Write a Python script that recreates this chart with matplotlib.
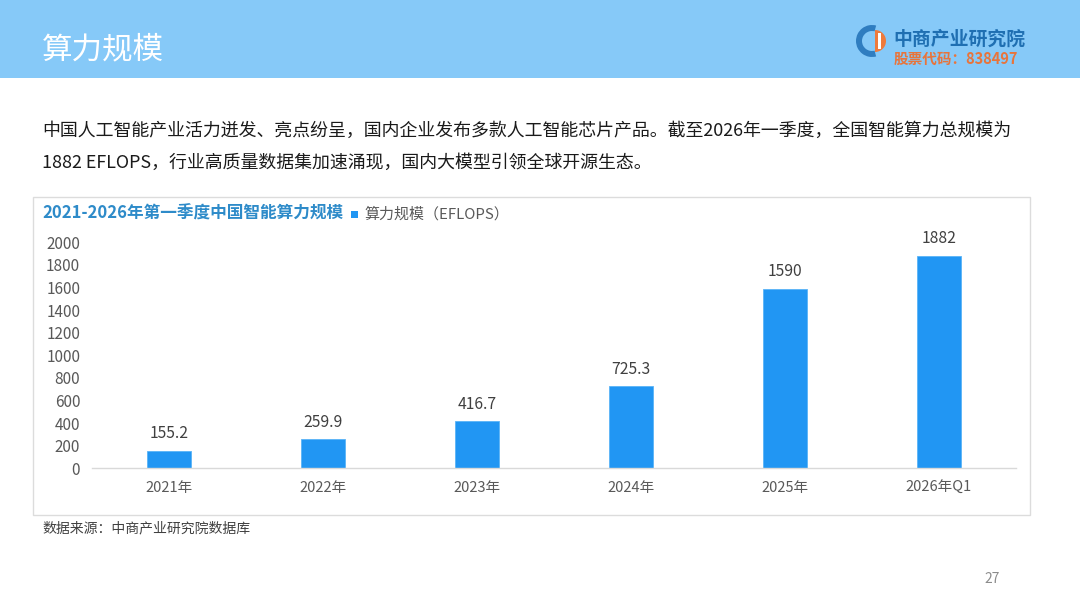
import matplotlib
matplotlib.use("Agg")
import matplotlib.pyplot as plt
from matplotlib.patches import Rectangle, Wedge

plt.rcParams['font.family'] = ['Noto Sans CJK SC', 'DejaVu Sans']

categories = ["2021年", "2022年", "2023年", "2024年", "2025年", "2026年Q1"]
values = [155.2, 259.9, 416.7, 725.3, 1590, 1882]
value_labels = ["155.2", "259.9", "416.7", "725.3", "1590", "1882"]
yticks = [0, 200, 400, 600, 800, 1000, 1200, 1400, 1600, 1800, 2000]

page_title = "算力规模"
body_lines = [
    "中国人工智能产业活力迸发、亮点纷呈，国内企业发布多款人工智能芯片产品。截至2026年一季度，全国智能算力总规模为",
    "1882 EFLOPS，行业高质量数据集加速涌现，国内大模型引领全球开源生态。",
]
chart_title = "2021-2026年第一季度中国智能算力规模"
legend_label = "算力规模（EFLOPS）"
source_text = "数据来源：中商产业研究院数据库"
page_no = "27"

W, H = 1080, 608
fig = plt.figure(figsize=(W / 100, H / 100), dpi=100)

# full-figure overlay in pixel coordinates
bg = fig.add_axes([0, 0, 1, 1], zorder=0)
bg.set_xlim(0, W)
bg.set_ylim(H, 0)
bg.axis('off')

bg.add_patch(Rectangle((0, 0), W, 78, facecolor='#86C9F8', edgecolor='none'))
bg.text(42, 50, page_title, color='white', fontsize=22, va='center', ha='left')

# logo
bg.add_patch(Wedge((872, 41), 16, 75, 285, width=6, facecolor='#2F7DC0', edgecolor='none'))
bg.add_patch(Wedge((875, 41), 11, -90, 90, facecolor='#EE7A3C', edgecolor='none'))
bg.add_patch(Rectangle((878, 33), 2.5, 16, facecolor='white', edgecolor='none'))
bg.text(893, 39, "中商产业研究院", color='#1F6FB2', fontsize=13.6, va='center', ha='left', fontweight='bold')
bg.text(894, 59, "股票代码：838497", color='#E8743B', fontsize=10.5, va='center', ha='left', fontweight='bold')

# body text
bg.text(42, 131, body_lines[0], color='#1A1A1A', fontsize=12.9, va='center', ha='left')
bg.text(42, 163, body_lines[1], color='#1A1A1A', fontsize=12.9, va='center', ha='left')

# chart box
bg.add_patch(Rectangle((33, 197), 997, 318, facecolor='none', edgecolor='#DCDCDC', linewidth=1))
bg.text(42, 214, chart_title, color='#2E8BC9', fontsize=12, va='center', ha='left', fontweight='bold')
bg.add_patch(Rectangle((351, 211), 7, 7, facecolor='#2196F3', edgecolor='none'))
bg.text(364, 214, legend_label, color='#595959', fontsize=10.8, va='center', ha='left')

bg.text(42, 528, source_text, color='#404040', fontsize=10, va='center', ha='left')
bg.text(992, 579, page_no, color='#8C8C8C', fontsize=10, va='center', ha='center')

# chart axes
left, right = 92 / W, 1016 / W
bottom, top = 1 - 468.3 / H, 1 - 242.3 / H
ax = fig.add_axes([left, bottom, right - left, top - bottom], zorder=1)
ax.patch.set_alpha(0)
x = list(range(len(categories)))
bars = ax.bar(x, values, width=0.29, color='#2196F3', edgecolor='#5AB4F7', linewidth=0.6)
ax.set_xlim(-0.5, len(categories) - 0.5)
ax.set_ylim(0, 2000)
ax.set_yticks(yticks)
ax.set_yticklabels([str(v) for v in yticks])
ax.set_xticks(x)
ax.set_xticklabels(categories)
for s in ['top', 'right', 'left']:
    ax.spines[s].set_visible(False)
ax.spines['bottom'].set_color('#D9D9D9')
ax.spines['bottom'].set_linewidth(1)
ax.tick_params(axis='y', length=0, pad=8.5, labelsize=11, labelcolor='#595959')
ax.tick_params(axis='x', length=0, pad=9, labelsize=10.5, labelcolor='#595959')

for xi, v, lab in zip(x, values, value_labels):
    ax.annotate(lab, (xi, v), xytext=(0, 6), textcoords='offset points',
                ha='center', va='bottom', fontsize=11.3, color='#404040')

fig.savefig("out.png", dpi=100)
